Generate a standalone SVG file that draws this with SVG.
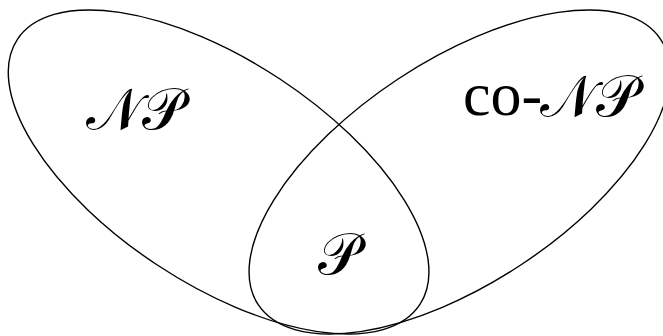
<svg xmlns="http://www.w3.org/2000/svg" width="663" height="336" viewBox="0 0 663 336">
<style>
.set{fill:none;stroke:#000;stroke-width:1.4}
</style>
<rect width="663" height="336" fill="#fff"/>
<g id="connectors"/>
<g id="np">
<ellipse class="set" cx="218.6" cy="172" rx="241" ry="111.4" transform="rotate(33.4 218.6 172)"/>
<text x="86" y="129" font-family="DejaVu Sans, sans-serif" font-size="58" fill="#000">𝒩𝒫</text>
</g>
<g id="conp">
<ellipse class="set" cx="459.4" cy="172" rx="241" ry="111.4" transform="rotate(-33.4 459.4 172)"/>
<text x="463" y="115" font-family="Liberation Serif, Times New Roman, serif" font-size="62" fill="#000">co-</text>
<text x="540" y="116" font-family="DejaVu Sans, sans-serif" font-size="58" fill="#000">𝒩𝒫</text>
</g>
<g id="p">
<text x="318" y="274" font-family="DejaVu Sans, sans-serif" font-size="58" fill="#000">𝒫</text>
</g>
</svg>
